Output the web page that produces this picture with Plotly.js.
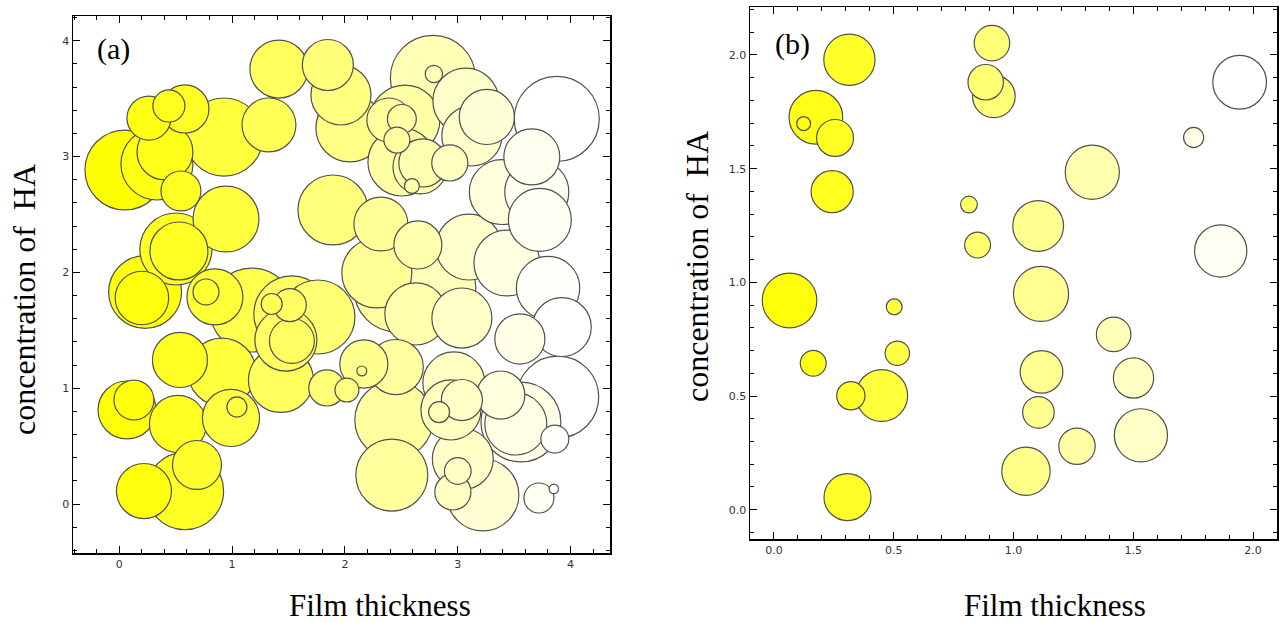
<!DOCTYPE html>
<html><head><meta charset="utf-8">
<script src="https://cdn.plot.ly/plotly-3.0.1.min.js"></script>
<style>html,body{margin:0;padding:0;background:#fff}#chart{width:1283px;height:623px}</style>
</head><body><div id="chart"></div>
<script>
// Panel (a): film thickness, concentration of HA, bubble radius (x units)
const aX = [0.05,0.334,0.405,0.263,0.582,0.440,0.928,1.327,0.547,1.415,
  1.849,1.965,2.044,1.894,0.946,0.502,0.529,2.780,2.789,3.072,
  3.258,3.878,3.657,3.391,3.701,3.728,3.125,2.532,2.505,2.390,
  2.505,2.461,2.665,2.691,2.594,2.930,2.319,2.647,3.099,3.436,
  3.801,3.923,3.551,3.887,2.283,2.461,2.824,3.037,2.629,1.761,
  2.168,2.451,2.150,1.840,2.018,1.530,1.433,2.434,2.416,2.966,
  2.940,2.835,3.037,3.382,3.515,3.560,3.861,3.045,3.001,2.957,
  3.223,3.720,3.852,0.229,0.201,0.848,0.769,1.176,1.530,1.351,
  1.512,1.477,0.538,0.910,0.069,0.130,0.520,0.990,1.043,0.219,
  0.582,0.689];
const aY = [2.884,2.936,3.040,3.333,3.411,3.437,3.169,3.273,2.703,3.756,
  3.791,3.532,3.247,2.539,2.461,2.202,2.185,3.679,3.713,3.480,
  3.342,3.325,2.997,2.694,2.694,2.453,3.178,3.316,2.953,3.316,
  3.325,3.143,2.910,2.945,2.746,2.945,2.418,2.237,2.219,2.081,
  1.865,1.528,1.425,0.924,1.995,1.857,1.865,1.606,1.641,1.615,
  1.209,1.183,1.149,1.002,0.984,1.408,1.071,0.725,0.250,1.045,
  0.812,0.794,0.898,0.941,0.691,0.708,0.561,0.389,0.285,0.104,
  0.078,0.052,0.130,1.831,1.779,1.788,1.831,1.675,1.641,1.727,
  1.718,1.416,1.244,1.140,0.812,0.898,0.691,0.743,0.838,0.112,
  0.112,0.337];
const aR = [0.354,0.319,0.248,0.195,0.213,0.142,0.346,0.239,0.177,0.257,
  0.226,0.266,0.301,0.310,0.292,0.319,0.257,0.377,0.077,0.292,
  0.244,0.377,0.248,0.288,0.284,0.279,0.266,0.310,0.301,0.195,
  0.128,0.115,0.239,0.213,0.066,0.160,0.239,0.213,0.292,0.292,
  0.281,0.261,0.222,0.363,0.310,0.381,0.337,0.266,0.275,0.328,
  0.213,0.244,0.044,0.160,0.106,0.199,0.288,0.346,0.319,0.275,
  0.266,0.093,0.182,0.213,0.275,0.354,0.124,0.270,0.118,0.160,
  0.319,0.133,0.042,0.323,0.237,0.248,0.115,0.372,0.337,0.093,
  0.146,0.275,0.244,0.301,0.257,0.177,0.253,0.253,0.089,0.244,
  0.343,0.217];

// Panel (b)
const bX = [0.315,0.175,0.124,0.255,0.243,0.065,0.814,0.850,0.910,0.918,
  0.884,1.944,1.752,1.329,1.865,1.103,1.115,1.418,1.117,1.104,
  1.501,1.265,1.532,1.052,0.502,0.515,0.164,0.321,0.450,0.307];
const bY = [1.979,1.726,1.698,1.635,1.399,0.920,1.342,1.164,2.052,1.818,
  1.880,1.880,1.637,1.484,1.138,1.248,0.949,0.771,0.606,0.428,
  0.579,0.279,0.327,0.169,0.892,0.688,0.644,0.501,0.502,0.055];
const bR = [0.107,0.112,0.029,0.077,0.088,0.114,0.035,0.054,0.074,0.089,
  0.074,0.112,0.042,0.113,0.109,0.106,0.115,0.072,0.089,0.066,
  0.084,0.076,0.111,0.101,0.033,0.051,0.054,0.059,0.108,0.098];

const xTitle = 'Film thickness';
const yTitle = 'concentration of\u00a0 HA';

const W = 1283, H = 623;
const domAx = [73/W, 610/W], domAy = [1-553/H, 1-16/H];
const domBx = [750/W, 1277/W], domBy = [1-539/H, 1-7/H];
const rangeAx = [-0.41, 4.35], rangeAy = [-0.423, 4.214];
const rangeBx = [-0.1, 2.1], rangeBy = [-0.129, 2.211];

function bubbles(xs, ys, rs, dom, range, cmax, xa, ya) {
  const ppu = (dom[1]-dom[0])*W/(range[1]-range[0]);
  const idx = xs.map((_, i) => i).sort((p, q) => rs[q]-rs[p]);
  return {type:'scatter', mode:'markers', xaxis:xa, yaxis:ya,
    x: idx.map(i => xs[i]), y: idx.map(i => ys[i]),
    marker:{size: idx.map(i => 2*rs[i]*ppu), sizemode:'diameter', opacity:1,
      color: idx.map(i => xs[i]), colorscale:[[0,'#ffff00'],[1,'#ffffff']],
      cmin:0, cmax:cmax, showscale:false,
      line:{color:'#505050', width:1.2}},
    hoverinfo:'skip', cliponaxis:false, showlegend:false};
}

function axis(dom, range, dtick, minor, fmt, anchor) {
  return {domain:dom, range:range, anchor:anchor, showgrid:false, zeroline:false,
    showline:true, linecolor:'#000', linewidth:1.5, mirror:'allticks',
    ticks:'inside', ticklen:7, tickwidth:1, tickcolor:'#000',
    tick0:0, dtick:dtick, tickformat:fmt,
    tickfont:{family:'DejaVu Sans', size:11, color:'#333'},
    minor:{ticks:'inside', ticklen:4, tickwidth:1, tickcolor:'#000', dtick:minor, tick0:0, showgrid:false},
    fixedrange:true};
}

const data = [
  bubbles(aX, aY, aR, domAx, rangeAx, 3.9, 'x', 'y'),
  bubbles(bX, bY, bR, domBx, rangeBx, 1.95, 'x2', 'y2')
];

const serif = 'Liberation Serif, Times New Roman, serif';
function note(text, px, py, size, angle) {
  return {text:text, xref:'paper', yref:'paper', x:px/W, y:1-py/H,
    xanchor:'center', yanchor:'middle', textangle:angle || 0, showarrow:false,
    font:{family:serif, size:size, color:'#000'}};
}
const layout = {
  width: W, height: H, margin:{l:0, r:0, t:0, b:0},
  paper_bgcolor:'#fff', plot_bgcolor:'#fff', showlegend:false,
  xaxis: axis(domAx, rangeAx, 1, 0.2, 'd', 'y'),
  yaxis: axis(domAy, rangeAy, 1, 0.2, 'd', 'x'),
  xaxis2: axis(domBx, rangeBx, 0.5, 0.1, '.1f', 'y2'),
  yaxis2: axis(domBy, rangeBy, 0.5, 0.1, '.1f', 'x2'),
  annotations: [
    note('(a)', 113, 49, 30),
    note('(b)', 792, 44, 30),
    note(xTitle, 380, 605, 31),
    note(xTitle, 1055, 605, 31),
    note(yTitle, 24, 300, 32, -90),
    note(yTitle, 697, 267, 32, -90)
  ]
};

Plotly.newPlot('chart', data, layout, {staticPlot:true, displayModeBar:false});
</script>
</body></html>
